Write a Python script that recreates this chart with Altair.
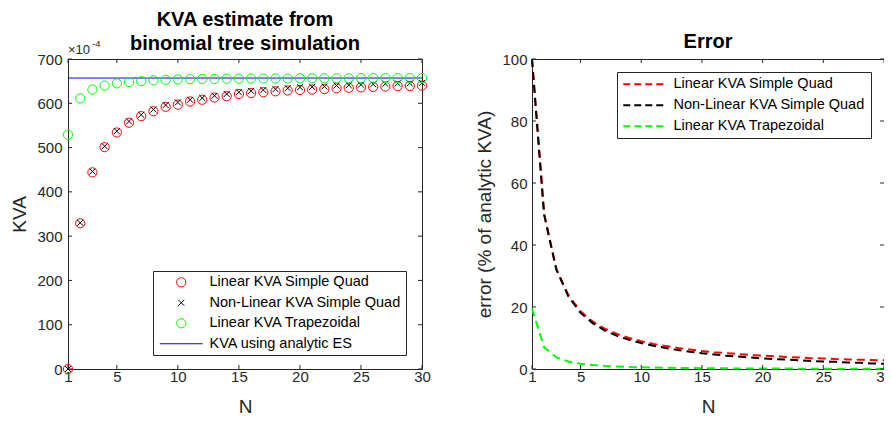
import altair as alt
import pandas as pd

# ---------------- data ----------------
N = list(range(1, 31))

lin_simple = [0, 329, 444, 501, 534, 556, 571, 582, 592, 597,
              604, 608, 613, 616, 621, 623, 625, 627, 629, 630,
              631, 632, 634, 635, 636, 637, 638, 639, 639, 640]
nonlin_simple = [0, 330, 446, 503, 537, 559, 574, 586, 596, 602,
                 608, 612, 617, 621, 625, 628, 630, 632, 634, 636,
                 637, 638, 640, 641, 642, 643, 644, 645, 645, 646]
lin_trap = [529, 611, 631, 640, 645, 648, 650, 652, 653, 654,
            654.5, 655, 655, 655.5, 655.5, 656, 656, 656, 656, 656.5,
            656.5, 656.5, 656.5, 656.5, 657, 657, 657, 657, 657, 657]
analytic_es = [657]

err_lin_simple = [100, 50, 32.4, 23.8, 18.6, 15.3, 13.0, 11.3, 10.0, 9.0,
                  8.1, 7.4, 6.8, 6.3, 5.8, 5.4, 5.1, 4.8, 4.5, 4.3,
                  4.1, 3.9, 3.7, 3.5, 3.4, 3.2, 3.1, 3.0, 2.9, 2.8]
err_nonlin_simple = [100, 49.8, 32.1, 23.4, 18.1, 14.8, 12.4, 10.7, 9.4, 8.4,
                     7.5, 6.8, 6.1, 5.6, 5.1, 4.7, 4.3, 4.0, 3.7, 3.4,
                     3.2, 3.0, 2.8, 2.6, 2.4, 2.3, 2.1, 2.0, 1.8, 1.7]
err_lin_trap = [19.5, 7.0, 3.8, 2.4, 1.7, 1.3, 1.0, 0.8, 0.65, 0.55,
                0.45, 0.4, 0.35, 0.3, 0.27, 0.24, 0.21, 0.19, 0.17, 0.15,
                0.14, 0.13, 0.12, 0.11, 0.10, 0.09, 0.08, 0.08, 0.07, 0.07]

left_names = ["Linear KVA Simple Quad", "Non-Linear KVA Simple Quad",
              "Linear KVA Trapezoidal", "KVA using analytic ES"]
right_names = ["Linear KVA Simple Quad", "Non-Linear KVA Simple Quad",
               "Linear KVA Trapezoidal"]

x_ticks = [1, 5, 10, 15, 20, 25, 30]
left_y_ticks = [0, 100, 200, 300, 400, 500, 600, 700]
right_y_ticks = [0, 20, 40, 60, 80, 100]

# ---------------- styling ----------------
FONT = "Liberation Sans"
AX = "#262626"
RED, BLACK, GREEN, BLUE = "#ff0000", "#000000", "#00ff00", "#0000ff"
W, H = 354, 310
W2 = 352
X_PATH = "M-0.65,-0.65L0.65,0.65M-0.65,0.65L0.65,-0.65"
LINE_PATH_L = "M-4.66,0L4.66,0"
LINE_PATH_R = "M-4.4,0L4.4,0"

xscale = alt.Scale(domain=[1, 30], nice=False, zero=False)
yscale_l = alt.Scale(domain=[0, 700], nice=False)
yscale_r = alt.Scale(domain=[0, 100], nice=False)


def axis(values, title, label_pad, title_pad):
    return alt.Axis(values=values, title=title, domain=False, ticks=False, grid=False,
                    labelFont=FONT, labelFontSize=15, labelColor=AX,
                    labelPadding=label_pad, labelOverlap=False, labelFlush=False,
                    titleFont=FONT, titleFontSize=19, titleFontWeight="normal",
                    titleColor=AX, titlePadding=title_pad)


X_AXIS = axis(x_ticks, "N", 0, 13)
Y_AXIS_L = axis(left_y_ticks, "KVA", 6, 7)
Y_AXIS_R = axis(right_y_ticks, "error (% of analytic KVA)", 5, 7)


def inner_ticks(xt, yt, ysc, yax, w, h, L=4):
    dx = pd.DataFrame({"N": xt})
    dy = pd.DataFrame({"v": yt})
    rule = dict(color=AX, strokeWidth=1)
    bottom = alt.Chart(dx).mark_rule(**rule).encode(
        x=alt.X("N:Q", scale=xscale, axis=X_AXIS), y=alt.value(h), y2=alt.value(h - L))
    top = alt.Chart(dx).mark_rule(**rule).encode(
        x=alt.X("N:Q", scale=xscale, axis=X_AXIS), y=alt.value(0), y2=alt.value(L))
    left = alt.Chart(dy).mark_rule(**rule).encode(
        y=alt.Y("v:Q", scale=ysc, axis=yax), x=alt.value(0), x2=alt.value(L))
    right = alt.Chart(dy).mark_rule(**rule).encode(
        y=alt.Y("v:Q", scale=ysc, axis=yax), x=alt.value(w), x2=alt.value(w - L))
    return [bottom, top, left, right]


# ---------------- left panel ----------------
pts_df = pd.concat([
    pd.DataFrame({"N": N, "v": lin_simple, "series": left_names[0]}),
    pd.DataFrame({"N": N, "v": nonlin_simple, "series": left_names[1]}),
    pd.DataFrame({"N": N, "v": lin_trap, "series": left_names[2]}),
], ignore_index=True)

es_df = pd.DataFrame({"v": analytic_es})

leg_left = alt.Legend(title=None, orient="none", legendX=85, legendY=212,
                      padding=4, strokeColor=AX, fillColor="white",
                      symbolSize=85, symbolOffset=17, symbolStrokeWidth=1,
                      labelOffset=21, labelFont=FONT, labelFontSize=14.5,
                      labelColor="black", rowPadding=5.5, labelLimit=400)

es_line = alt.Chart(es_df).mark_rule(color=BLUE, strokeWidth=1).encode(
    y=alt.Y("v:Q", scale=yscale_l, axis=Y_AXIS_L))

points = alt.Chart(pts_df).mark_point(filled=False, size=85, strokeWidth=1, opacity=1).encode(
    x=alt.X("N:Q", scale=xscale, axis=X_AXIS),
    y=alt.Y("v:Q", scale=yscale_l, axis=Y_AXIS_L),
    color=alt.Color("series:N", scale=alt.Scale(domain=left_names,
                                                range=[RED, BLACK, GREEN, BLUE]),
                    legend=leg_left),
    shape=alt.Shape("series:N", scale=alt.Scale(domain=left_names,
                                                range=["circle", X_PATH, "circle", LINE_PATH_L]),
                    legend=leg_left),
)

exp_df = pd.DataFrame({"a": ["\u00d710"], "b": ["-4"]})
exp_base = alt.Chart(exp_df).mark_text(font=FONT, fontSize=13, color=AX, align="left",
                                       baseline="alphabetic").encode(
    x=alt.value(0), y=alt.value(-5), text="a:N")
exp_sup = alt.Chart(exp_df).mark_text(font=FONT, fontSize=9.5, color=AX, align="left",
                                      baseline="alphabetic").encode(
    x=alt.value(24), y=alt.value(-12), text="b:N")

left = alt.layer(es_line, points, exp_base, exp_sup,
                 *inner_ticks(x_ticks, left_y_ticks, yscale_l, Y_AXIS_L, W, H)).properties(
    width=W, height=H,
    title=alt.TitleParams(text=["KVA estimate from", "binomial tree simulation"],
                          font=FONT, fontSize=20, fontWeight="bold", color="black",
                          anchor="middle", offset=-15, lineHeight=24.5))

# ---------------- right panel ----------------
leg_right = alt.Legend(title=None, orient="none", legendX=85, legendY=13,
                       padding=5, strokeColor=AX, fillColor="white",
                       symbolType=LINE_PATH_R, symbolSize=100, symbolOffset=16,
                       symbolStrokeWidth=2, symbolDash=[7, 4],
                       labelOffset=21, labelFont=FONT, labelFontSize=14.5,
                       labelColor="black", rowPadding=6, labelLimit=400)

err_color = alt.Scale(domain=right_names, range=[RED, BLACK, GREEN])


def err_line(vals, name):
    df = pd.DataFrame({"N": N, "v": vals, "series": name})
    return alt.Chart(df).mark_line(strokeWidth=2, strokeDash=[8, 5]).encode(
        x=alt.X("N:Q", scale=xscale, axis=X_AXIS),
        y=alt.Y("v:Q", scale=yscale_r, axis=Y_AXIS_R),
        color=alt.Color("series:N", scale=err_color, legend=leg_right),
    )


right = alt.layer(err_line(err_lin_simple, right_names[0]),
                  err_line(err_nonlin_simple, right_names[1]),
                  err_line(err_lin_trap, right_names[2]),
                  *inner_ticks(x_ticks, right_y_ticks, yscale_r, Y_AXIS_R, W2, H)).properties(
    width=W2, height=H,
    title=alt.TitleParams(text="Error", font=FONT, fontSize=20, fontWeight="bold",
                          color="black", anchor="middle", offset=0))

chart = alt.hconcat(left, right, spacing=44).resolve_scale(
    color="independent", shape="independent").properties(
    padding={"left": 2, "top": 1, "right": -9, "bottom": 0}
).configure_view(stroke=AX, strokeWidth=1).configure_legend(
    labelFont=FONT, labelFontSize=14.5, labelColor="black", labelLimit=400)

chart.save("out.html", embed_options={"renderer": "svg", "actions": False})
